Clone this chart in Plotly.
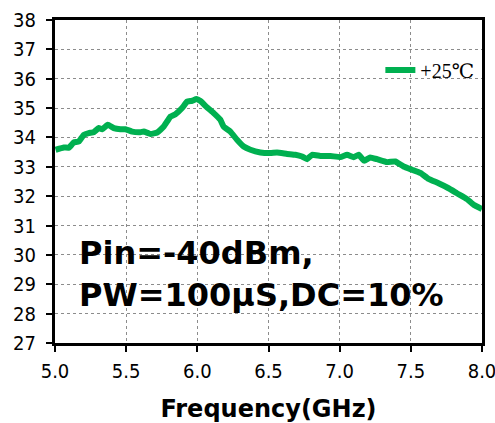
import plotly.graph_objects as go

freq_ghz = [5.004, 5.062, 5.097, 5.132, 5.167, 5.202, 5.237, 5.272, 5.308, 5.331,
            5.371, 5.413, 5.46, 5.495, 5.542, 5.60, 5.624, 5.671, 5.718, 5.764,
            5.811, 5.846, 5.893, 5.928, 5.963, 5.994, 6.022, 6.069, 6.115, 6.162,
            6.185, 6.232, 6.279, 6.326, 6.373, 6.443, 6.513, 6.56, 6.631, 6.689,
            6.736, 6.771, 6.806, 6.864, 6.935, 7.005, 7.052, 7.098, 7.133, 7.173,
            7.215, 7.263, 7.333, 7.391, 7.449, 7.508, 7.567, 7.624, 7.695, 7.765,
            7.824, 7.895, 7.941, 8.0]
gain_25c = [33.58, 33.66, 33.65, 33.83, 33.86, 34.09, 34.15, 34.18, 34.32, 34.28,
            34.43, 34.32, 34.28, 34.28, 34.20, 34.18, 34.20, 34.12, 34.17, 34.37,
            34.71, 34.79, 35.00, 35.22, 35.25, 35.31, 35.24, 35.02, 34.83, 34.60,
            34.37, 34.20, 33.92, 33.69, 33.58, 33.49, 33.47, 33.49, 33.44, 33.41,
            33.35, 33.26, 33.41, 33.37, 33.37, 33.33, 33.41, 33.33, 33.41, 33.21,
            33.32, 33.26, 33.16, 33.18, 33.01, 32.90, 32.79, 32.59, 32.44, 32.27,
            32.10, 31.90, 31.71, 31.56]
series_name = "+25℃"
x_ticks = [5.0, 5.5, 6.0, 6.5, 7.0, 7.5, 8.0]
x_tick_labels = ["5.0", "5.5", "6.0", "6.5", "7.0", "7.5", "8.0"]
y_ticks = list(range(27, 39))
x_title = "Frequency(GHz)"
note_text = "Pin=-40dBm,<br>PW=100μS,DC=10%"

FONT = "DejaVu Sans Condensed, DejaVu Sans, sans-serif"
BOLD_FONT = "DejaVu Sans, sans-serif"

fig = go.Figure()
fig.add_trace(go.Scatter(
    x=freq_ghz, y=gain_25c, mode="lines", name=series_name,
    line=dict(color="#00B050", width=6, shape="spline", smoothing=0.3),
))

fig.update_layout(
    width=495, height=423,
    margin=dict(l=54.5, r=13.3, t=20, b=79.7, autoexpand=False),
    paper_bgcolor="white", plot_bgcolor="white",
    showlegend=True,
    legend=dict(x=0.762, y=0.845, xanchor="left", yanchor="middle",
                bgcolor="rgba(0,0,0,0)",
                font=dict(family="Liberation Serif, DejaVu Serif, serif", size=20, color="black")),
    font=dict(family=FONT, color="black"),
)
fig.update_xaxes(
    range=[5.0, 8.0], tickvals=x_ticks, ticktext=x_tick_labels,
    showgrid=True, gridcolor="#8c8c8c", griddash="dot", gridwidth=1,
    showline=True, linecolor="black", linewidth=3, mirror=True,
    ticks="outside", ticklen=6, tickwidth=1.5, tickcolor="black",
    tickfont=dict(family=FONT, size=20, color="black"),
    ticklabeloverflow="allow", ticklabelstandoff=2,
    title=dict(text=x_title, font=dict(family=BOLD_FONT, size=24, color="black", weight="bold"), standoff=22),
    zeroline=False, automargin=False,
)
fig.update_yaxes(
    range=[27, 38], tickvals=y_ticks,
    showgrid=True, gridcolor="#8c8c8c", griddash="dot", gridwidth=1,
    showline=True, linecolor="black", linewidth=3, mirror=True,
    ticks="outside", ticklen=6, tickwidth=1.5, tickcolor="black",
    tickfont=dict(family=FONT, size=20, color="black"),
    ticklabeloverflow="allow", ticklabelstandoff=6,
    zeroline=False, automargin=False,
)
fig.add_annotation(
    text=note_text, xref="paper", yref="paper", x=0.052, y=0.213,
    xanchor="left", yanchor="middle", align="left", showarrow=False,
    font=dict(family=BOLD_FONT, size=32, color="black", weight="bold"),
)
fig.write_html("out.html", config={"displayModeBar": False},
               post_script="document.body.style.margin='0';document.body.style.padding='0';")
